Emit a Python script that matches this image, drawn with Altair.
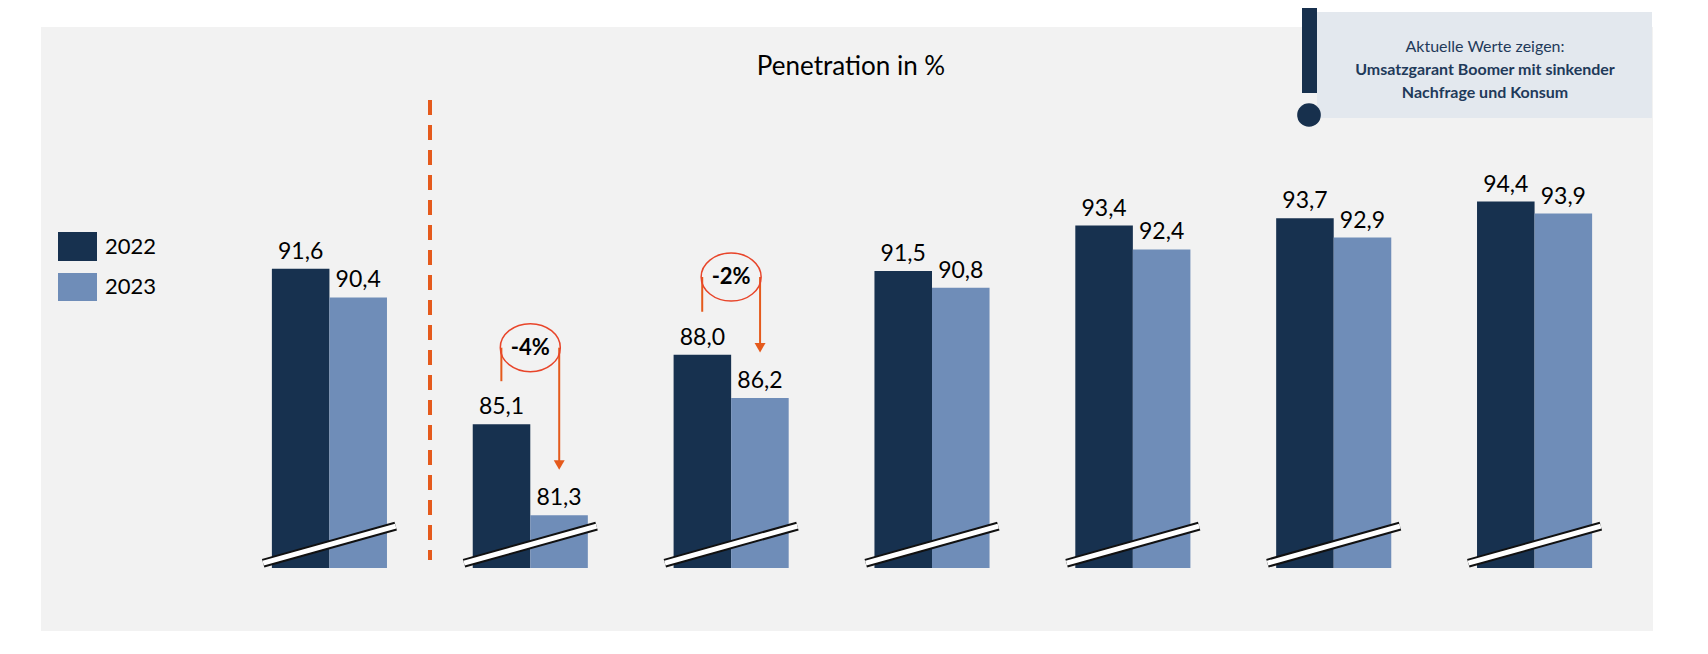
import altair as alt
import pandas as pd

categories = ["Total", "< 30 Jahre", "35-39 Jahre", "40-49 Jahre", "50-59 Jahre", "60-69 Jahre", "70 Jahre +"]
values_2022 = [91.6, 85.1, 88.0, 91.5, 93.4, 93.7, 94.4]
values_2023 = [90.4, 81.3, 86.2, 90.8, 92.4, 92.9, 93.9]
years = ["2022", "2023"]
colors = ["#17314f", "#6f8db8"]
y_min, y_max = 79.1, 101.69
break_y = [79.3, 80.85]

# change annotations: category index, label, y of ellipse, y start left, y of arrow tip
changes = [(1, "-4%", 88.3, 86.9, 83.1), (2, "-2%", 91.25, 89.8, 88.0)]

FONT = "Lato"
ORANGE = "#e55a1c"

rows = []
for c, a, b in zip(categories, values_2022, values_2023):
    rows.append({"cat": c, "year": "2022", "v": a, "lab": f"{a:.1f}".replace(".", ","), "base": y_min})
    rows.append({"cat": c, "year": "2023", "v": b, "lab": f"{b:.1f}".replace(".", ","), "base": y_min})
df = pd.DataFrame(rows)

xband = alt.X("cat:N", sort=categories, title=None,
              scale=alt.Scale(paddingInner=0.427, paddingOuter=0.2135),
              axis=alt.Axis(labelAngle=0, labelFontSize=22, labelFont=FONT, labelColor="#000",
                            ticks=False, domainColor="#404040", domainWidth=2, labelPadding=14))
xoff = alt.XOffset("year:N", scale=alt.Scale(paddingInner=0, paddingOuter=0))
yscale = alt.Scale(domain=[y_min, y_max], zero=False, nice=False)
col = alt.Color("year:N", scale=alt.Scale(domain=years, range=colors), legend=None)

qx = alt.Scale(domain=[0, 7], nice=False, zero=False)

one = pd.DataFrame({"a": [0]})

panel = alt.Chart(one).mark_rect(color="#f2f2f2", clip=False).encode(
    x=alt.value(-188), x2=alt.value(1424), y=alt.value(0), y2=alt.value(604))

bars = alt.Chart(df).mark_bar().encode(
    x=xband, xOffset=xoff,
    y=alt.Y("v:Q", scale=yscale, axis=None), y2="base:Q", color=col)

labels = alt.Chart(df).mark_text(baseline="bottom", dy=-5, fontSize=23, font=FONT, color="#000").encode(
    x=alt.X("cat:N", sort=categories, axis=None,
            scale=alt.Scale(paddingInner=0.427, paddingOuter=0.2135)),
    xOffset=xoff, y=alt.Y("v:Q", scale=yscale), text="lab:N")

brk = pd.DataFrame({"x1": [i + 0.5 - 0.33 for i in range(7)], "x2": [i + 0.5 + 0.33 for i in range(7)],
                    "y1": [break_y[0]] * 7, "y2": [break_y[1]] * 7})
brk_black = alt.Chart(brk).mark_rule(color="#111", strokeWidth=9).encode(
    x=alt.X("x1:Q", scale=qx, axis=None), x2="x2:Q",
    y=alt.Y("y1:Q", scale=yscale), y2="y2:Q")
brk_white = alt.Chart(brk).mark_rule(color="white", strokeWidth=5).encode(
    x=alt.X("x1:Q", scale=qx, axis=None), x2="x2:Q",
    y=alt.Y("y1:Q", scale=yscale), y2="y2:Q")

divider = alt.Chart(one).mark_rule(color=ORANGE, strokeWidth=4, strokeDash=[15, 10]).encode(
    x=alt.value(201), y=alt.value(73), y2=alt.value(533))

ann = pd.DataFrame([{"xl": i + 0.5 - 0.144, "xr": i + 0.5 + 0.144, "xc": i + 0.5, "t": t,
                     "ye": ye, "ys": ys, "yt": yt, "yh": yt + 0.3} for i, t, ye, ys, yt in changes])
ann_left = alt.Chart(ann).mark_rule(color=ORANGE, strokeWidth=2).encode(
    x=alt.X("xl:Q", scale=qx, axis=None), y=alt.Y("ys:Q", scale=yscale), y2="ye:Q")
ann_right = alt.Chart(ann).mark_rule(color=ORANGE, strokeWidth=2).encode(
    x=alt.X("xr:Q", scale=qx, axis=None), y=alt.Y("ye:Q", scale=yscale), y2="yh:Q")
ann_head = alt.Chart(ann).mark_point(shape="triangle-down", filled=True, color=ORANGE, size=120, opacity=1).encode(
    x=alt.X("xr:Q", scale=qx, axis=None), y=alt.Y("yh:Q", scale=yscale))
ann_ell = alt.Chart(ann).mark_point(
    shape="M-1,0 A1,0.8 0 1,0 1,0 A1,0.8 0 1,0 -1,0", size=3600, color="#e8452a",
    strokeWidth=1.5, filled=False, opacity=1).encode(
    x=alt.X("xc:Q", scale=qx, axis=None), y=alt.Y("ye:Q", scale=yscale))
ann_txt = alt.Chart(ann).mark_text(fontSize=22, fontWeight="bold", font=FONT, color="#000").encode(
    x=alt.X("xc:Q", scale=qx, axis=None), y=alt.Y("ye:Q", scale=yscale), text="t:N")

title = alt.Chart(one).mark_text(text="Penetration in %", fontSize=26, font=FONT, color="#000").encode(
    x=alt.value(622), y=alt.value(40))

leg = pd.DataFrame({"year": years, "y": [205, 246], "y2": [234, 274], "ty": [220, 260]})
leg_sw = alt.Chart(leg).mark_rect().encode(
    x=alt.value(-171), x2=alt.value(-132), y=alt.Y("y:Q", scale=None), y2="y2:Q", color=col)
leg_txt = alt.Chart(leg).mark_text(align="left", fontSize=22, font=FONT, color="#000").encode(
    x=alt.value(-124), y=alt.Y("ty:Q", scale=None), text="year:N")

box = alt.Chart(one).mark_rect(color="#e3e8ee").encode(
    x=alt.value(1088), x2=alt.value(1423), y=alt.value(-15), y2=alt.value(91))
excl_bar = alt.Chart(one).mark_rect(color="#17304d").encode(
    x=alt.value(1073), x2=alt.value(1088), y=alt.value(-19), y2=alt.value(66))
excl_dot = alt.Chart(one).mark_point(shape="circle", filled=True, color="#17304d", size=560, opacity=1).encode(
    x=alt.value(1080), y=alt.value(88))
info = pd.DataFrame({"t": ["Aktuelle Werte zeigen:", "Umsatzgarant Boomer mit sinkender", "Nachfrage und Konsum"],
                     "y": [20, 43, 66], "w": ["normal", "bold", "bold"]})
info_bold = alt.Chart(info[info.w == "bold"]).mark_text(fontSize=16, font=FONT, color="#1f3a5a", fontWeight="bold").encode(
    x=alt.value(1256), y=alt.Y("y:Q", scale=None), text="t:N")
info_norm = alt.Chart(info[info.w == "normal"]).mark_text(fontSize=16, font=FONT, color="#1f3a5a").encode(
    x=alt.value(1256), y=alt.Y("y:Q", scale=None), text="t:N")

chart = alt.layer(
    panel, bars, labels, brk_black, brk_white, divider,
    ann_left, ann_right, ann_head, ann_ell, ann_txt,
    title, leg_sw, leg_txt, box, excl_bar, excl_dot, info_norm, info_bold
).resolve_scale(x="independent").properties(
    width=1406, height=541,
    padding={"left": 221, "top": 19, "right": 65, "bottom": 78},
    autosize=alt.AutoSizeParams(type="none"),
    background="white"
).configure_view(stroke=None)

chart.save("out.html", embed_options={"renderer": "svg", "actions": False})
